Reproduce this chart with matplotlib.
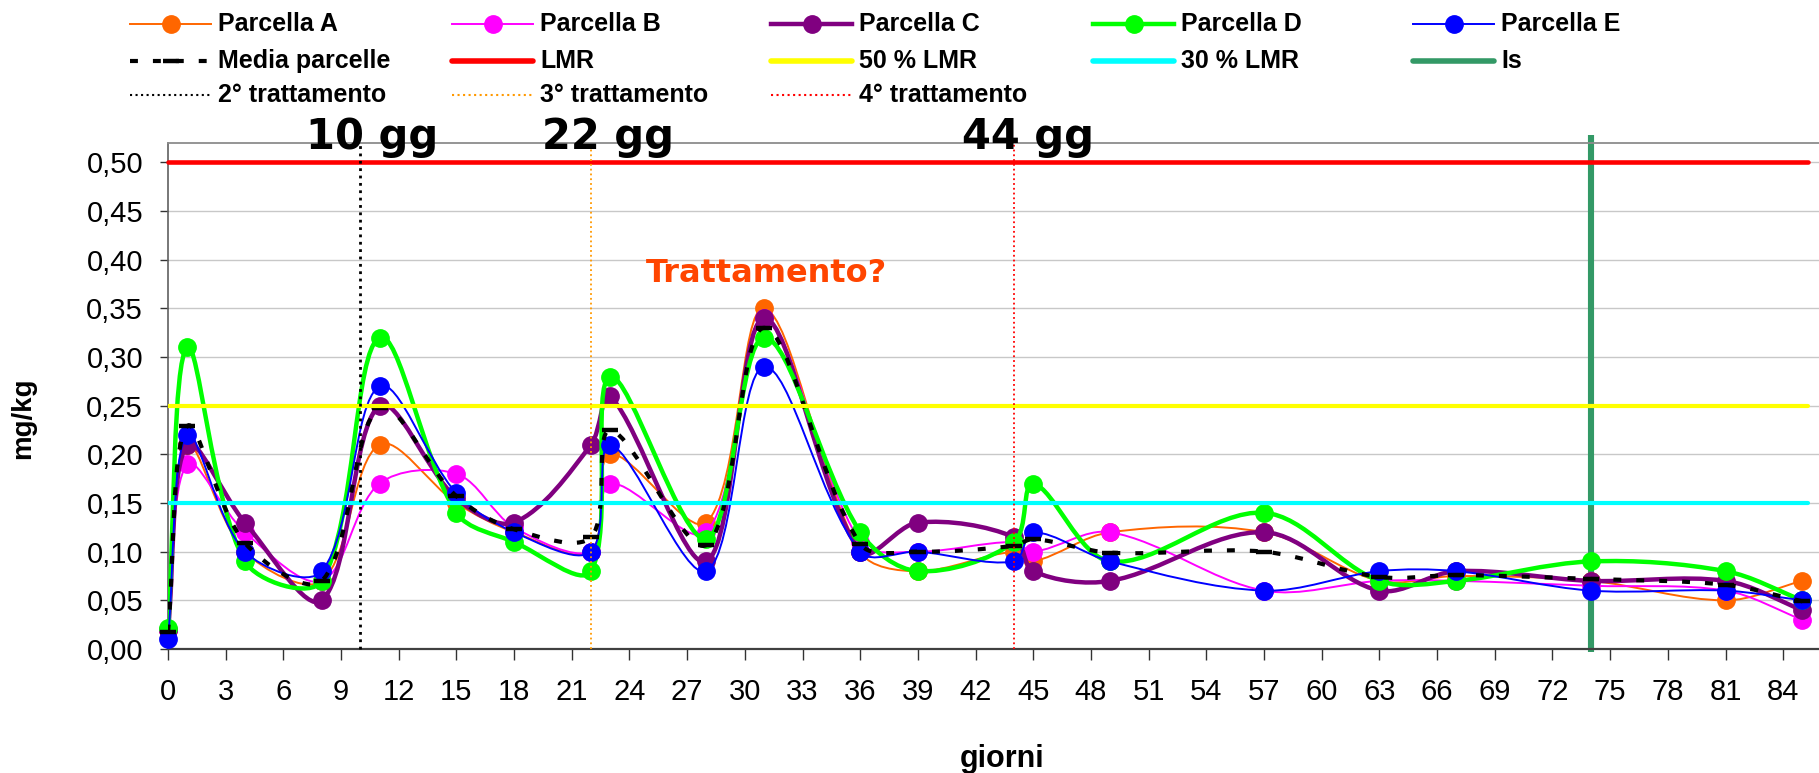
import matplotlib
matplotlib.use('Agg')
import matplotlib.pyplot as plt
from matplotlib.path import Path
from matplotlib.patches import PathPatch
from matplotlib.lines import Line2D
import numpy as np

plt.rcParams['font.family'] = ['Liberation Sans', 'DejaVu Sans']

# ---------------- data ----------------
giorni = [0, 1, 4, 8, 11, 15, 18, 22, 23, 28, 31, 36, 39, 44, 45, 49, 57, 63, 67, 74, 81, 85]
parcella_a = [0.02, 0.21, 0.10, 0.07, 0.21, 0.15, 0.12, 0.10, 0.20, 0.13, 0.35, 0.10, 0.08, 0.10, 0.09,
              0.12, 0.12, 0.07, 0.075, 0.07, 0.05, 0.07]
parcella_b = [0.02, 0.19, 0.12, 0.07, 0.17, 0.18, 0.125, 0.10, 0.17, 0.12, 0.34, 0.11, 0.10, 0.11, 0.10,
              0.12, 0.06, 0.07, 0.07, 0.065, 0.06, 0.03]
parcella_c = [0.02, 0.21, 0.13, 0.05, 0.25, 0.155, 0.13, 0.21, 0.26, 0.09, 0.34, 0.10, 0.13, 0.115, 0.08,
              0.07, 0.12, 0.06, 0.08, 0.07, 0.07, 0.04]
parcella_d = [0.022, 0.31, 0.09, 0.07, 0.32, 0.14, 0.11, 0.08, 0.28, 0.113, 0.32, 0.12, 0.08, 0.11, 0.17,
              0.09, 0.14, 0.07, 0.07, 0.09, 0.08, 0.05]
parcella_e = [0.01, 0.22, 0.10, 0.08, 0.27, 0.16, 0.12, 0.10, 0.21, 0.08, 0.29, 0.10, 0.10, 0.09, 0.12,
              0.09, 0.06, 0.08, 0.08, 0.06, 0.06, 0.05]
media_parcelle = [0.017, 0.229, 0.109, 0.07, 0.248, 0.157, 0.123, 0.115, 0.225, 0.107, 0.33, 0.108, 0.10,
                  0.106, 0.113, 0.099, 0.10, 0.074, 0.076, 0.072, 0.066, 0.049]

soglie_x = [0, 85.3]
lmr = 0.50
lmr_50 = 0.25
lmr_30 = 0.15
is_x = 74
is_y = [-0.003, 0.528]
trattamenti_x = [10, 22, 44]
trattamenti_y = [0, 0.52]
trattamenti_labels = ['2° trattamento', '3° trattamento', '4° trattamento']
gg_labels = ['10 gg', '22 gg', '44 gg']
gg_x = [10.6, 22.9, 44.7]

x_ticks = [0, 3, 6, 9, 12, 15, 18, 21, 24, 27, 30, 33, 36, 39, 42, 45, 48, 51, 54, 57, 60, 63, 66, 69, 72, 75,
           78, 81, 84]
y_ticks = [0.00, 0.05, 0.10, 0.15, 0.20, 0.25, 0.30, 0.35, 0.40, 0.45, 0.50]
y_tick_labels = ['0,00', '0,05', '0,10', '0,15', '0,20', '0,25', '0,30', '0,35', '0,40', '0,45', '0,50']

# ---------------- figure ----------------
W, H = 1819, 773
fig = plt.figure(figsize=(W / 100, H / 100), dpi=100)
ax = fig.add_axes([168 / W, 1 - 649 / H, 1 - 168 / W, (649 - 143) / H])
ax.set_xlim(0, 85.86)
ax.set_ylim(0, 0.52)

ax.set_yticks(y_ticks)
ax.set_yticklabels(y_tick_labels)
ax.set_xticks(x_ticks)
ax.set_xticklabels([str(t) for t in x_ticks])
ax.yaxis.grid(True, color='#C8C8C8', lw=1.0)
ax.set_axisbelow(True)
ax.tick_params(axis='y', direction='out', length=6, width=1, pad=12, labelsize=21, color='#333333')
ax.tick_params(axis='x', direction='out', length=8, width=1, pad=13, labelsize=21, color='#333333')
ax.spines['right'].set_visible(False)
ax.spines['top'].set_color('#8C8C8C')
ax.spines['top'].set_linewidth(1.3)
ax.spines['left'].set_color('#606060')
ax.spines['left'].set_linewidth(1.2)
ax.spines['bottom'].set_color('#404040')
ax.spines['bottom'].set_linewidth(1.6)


def smooth_path(xs, ys):
    pts = ax.transData.transform(np.column_stack([xs, ys]))
    n = len(pts)
    verts = [pts[0]]
    codes = [Path.MOVETO]
    for i in range(n - 1):
        p0 = pts[max(i - 1, 0)]
        p1 = pts[i]
        p2 = pts[i + 1]
        p3 = pts[min(i + 2, n - 1)]
        d01 = np.hypot(*(p1 - p0))
        d12 = np.hypot(*(p2 - p1))
        d23 = np.hypot(*(p3 - p2))
        f1 = d12 / (d01 + d12) if d01 + d12 > 0 else 0.5
        f2 = d12 / (d12 + d23) if d12 + d23 > 0 else 0.5
        c1 = p1 + (p2 - p0) * f1 / 3
        c2 = p2 - (p3 - p1) * f2 / 3
        verts += [c1, c2, p2]
        codes += [Path.CURVE4] * 3
    verts = ax.transData.inverted().transform(np.array(verts))
    return Path(verts, codes)


MS = 12.5
series = [
    ('Parcella A', parcella_a, '#FF6600', 1.4),
    ('Parcella B', parcella_b, '#FF00FF', 1.4),
    ('Parcella C', parcella_c, '#800080', 3.2),
    ('Parcella D', parcella_d, '#00FF00', 3.2),
    ('Parcella E', parcella_e, '#0000FF', 1.4),
]

# Is line (behind the series)
ax.plot([is_x, is_x], is_y, color='#339966', lw=4.4, zorder=1, clip_on=False, solid_capstyle='butt')

z = 2
for name, vals, col, lw in series:
    patch = PathPatch(smooth_path(giorni, vals), facecolor='none', edgecolor=col, lw=lw,
                      joinstyle='round', capstyle='round', zorder=z)
    ax.add_patch(patch)
    ax.plot(giorni, vals, linestyle='none', marker='o', ms=MS, color=col, mec=col, zorder=z + 0.1, clip_on=False)
    z += 1

media_style = (0, (1.9, 3.6))
ax.add_patch(PathPatch(smooth_path(giorni, media_parcelle), facecolor='none', edgecolor='black', lw=3.0,
                       linestyle=media_style, zorder=z))
ax.plot(giorni, media_parcelle, linestyle='none', marker='_', ms=12, mew=3.2, color='black', zorder=z + 0.1,
        clip_on=False)

# thresholds
ax.plot(soglie_x, [lmr, lmr], color='#FF0000', lw=3.3, zorder=9, solid_capstyle='round', clip_on=False)
ax.plot(soglie_x, [lmr_50, lmr_50], color='#FFFF00', lw=3.0, zorder=9, solid_capstyle='round')
ax.plot(soglie_x, [lmr_30, lmr_30], color='#00FFFF', lw=3.0, zorder=9, solid_capstyle='round')

# treatments
tr_styles = [('black', 2.0), ('#FF9900', 1.3), ('#FF0000', 1.3)]
for tx, (tc, tlw) in zip(trattamenti_x, tr_styles):
    ax.plot([tx, tx], trattamenti_y, color=tc, lw=tlw, linestyle=':', zorder=10, clip_on=False)

for gx, gl in zip(gg_x, gg_labels):
    ax.text(gx, 0.5137, gl, ha='center', va='baseline', fontsize=30, fontweight='bold',
            family='DejaVu Sans', zorder=11, clip_on=False)

ax.text(31.1, 0.377, 'Trattamento?', ha='center', va='baseline', fontsize=23, fontweight='bold',
        family='DejaVu Sans', color='#FF4500', zorder=11)

# axis labels
fig.text(1002 / W, 1 - 759 / H, 'giorni', ha='center', va='center', fontsize=22, fontweight='bold')
fig.text(23 / W, 1 - 418 / H, 'mg/kg', ha='center', va='center', rotation=90, fontsize=20, fontweight='bold')

# ---------------- manual legend ----------------
col_x = [130, 452, 771, 1093, 1413]
row_y = [24, 61, 95]
hlen = 81

legend_items = [
    ('Parcella A', dict(color='#FF6600', lw=1.4), dict(marker='o', ms=MS, color='#FF6600')),
    ('Parcella B', dict(color='#FF00FF', lw=1.4), dict(marker='o', ms=MS, color='#FF00FF')),
    ('Parcella C', dict(color='#800080', lw=3.2), dict(marker='o', ms=MS, color='#800080')),
    ('Parcella D', dict(color='#00FF00', lw=3.2), dict(marker='o', ms=MS, color='#00FF00')),
    ('Parcella E', dict(color='#0000FF', lw=1.4), dict(marker='o', ms=MS, color='#0000FF')),
    ('Media parcelle', dict(color='black', lw=3.0, linestyle=media_style), dict(marker='_', ms=12, mew=3.2,
                                                                                 color='black')),
    ('LMR', dict(color='#FF0000', lw=4.0, solid_capstyle='round'), None),
    ('50 % LMR', dict(color='#FFFF00', lw=4.0, solid_capstyle='round'), None),
    ('30 % LMR', dict(color='#00FFFF', lw=4.0, solid_capstyle='round'), None),
    ('Is', dict(color='#339966', lw=4.0, solid_capstyle='round'), None),
    (trattamenti_labels[0], dict(color='black', lw=1.5, linestyle=':'), None),
    (trattamenti_labels[1], dict(color='#FF9900', lw=1.5, linestyle=':'), None),
    (trattamenti_labels[2], dict(color='#FF0000', lw=1.5, linestyle=':'), None),
]

for i, (lab, lkw, mkw) in enumerate(legend_items):
    x0 = col_x[i % 5]
    y0 = row_y[i // 5]
    yf = 1 - y0 / H
    fig.add_artist(Line2D([x0 / W, (x0 + hlen) / W], [yf, yf], transform=fig.transFigure, **lkw))
    if mkw is not None:
        fig.add_artist(Line2D([(x0 + hlen / 2) / W], [yf], transform=fig.transFigure, linestyle='none', **mkw))
    fig.text((x0 + hlen + 7) / W, yf, lab, ha='left', va='center', fontsize=18, fontweight='bold')

fig.savefig('out.png', dpi=100)
